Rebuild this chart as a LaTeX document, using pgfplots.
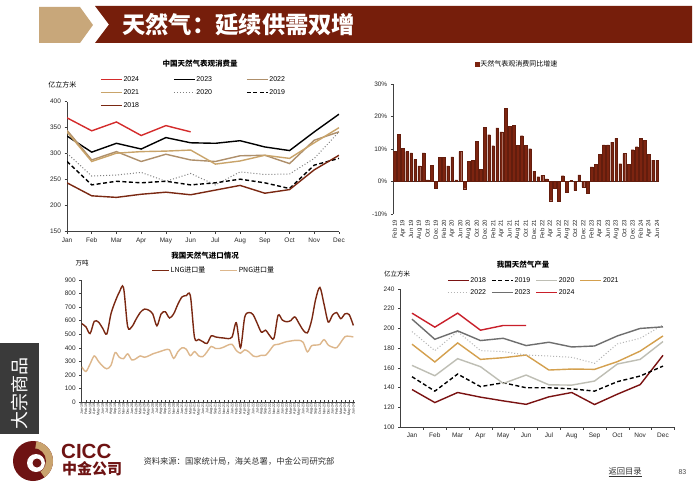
\documentclass[border=0pt]{standalone}
\usepackage{fontspec}
\setmainfont{Liberation Sans}
\newfontfamily\cjk{Noto Sans CJK SC}
\usepackage{pgfplots}
\usepackage{pgfplotstable}
\pgfplotsset{compat=1.18}
\definecolor{bannerred}{HTML}{761E0B}
\definecolor{bannertan}{HTML}{C8A77A}
\definecolor{barred}{HTML}{7C2410}
\definecolor{lngc}{HTML}{7A2812}
\definecolor{pngc}{HTML}{DDB78C}
\definecolor{cA}{HTML}{D42B2B}
\definecolor{c22}{HTML}{AE8F6B}
\definecolor{c21}{HTML}{C9A46A}
\definecolor{c18}{HTML}{7A2812}
\definecolor{p18}{HTML}{7A1212}
\definecolor{p20}{HTML}{BEBEB4}
\definecolor{p21}{HTML}{D4A04E}
\definecolor{p22}{HTML}{B4B4B4}
\definecolor{p23}{HTML}{6E6E6E}
\definecolor{p24}{HTML}{C91F2A}
\definecolor{boxgrey}{HTML}{3A3A3A}
\definecolor{logored}{HTML}{6E1313}
\definecolor{logotan}{HTML}{C9A36E}

\pgfplotstableread{
m a24 a23 a22 a21 a20 a19 a18
1 369 334 345 342 301 285 244
2 344 303 288 285 257 240 219
3 361 320 304 301 259 247 216
4 335 309 285 304 264 244 222
5 354 331 299 305 247 247 226
6 342 321 288 307 262 240 221
7 nan 320 285 280 240 244 230
8 nan 325 296 286 265 251 239
9 nan 313 297 297 260 244 224
10 nan 306 281 291 261 233 231
11 nan 342 326 321 291 278 269
12 nan 376 342 350 342 291 297
}\cons

\pgfplotstableread{
m p18 p19 p20 p21 p22 p23 p24
1 138 151 162.5 184 196.8 209.4 215.5
2 124.8 136.4 152 166 177.5 189 201.3
3 135 153.7 169.3 185.3 196.8 197.5 215.5
4 130.3 141 161.2 168.6 177.5 187.7 198.2
5 126.5 144.9 144.2 170.3 176.5 190 203
6 123 139.8 152.7 173 173 182.6 203
7 130.6 139.8 142.8 157.8 172 186 nan
8 135 138.7 142.5 158.8 170.7 181.2 nan
9 122.8 136.4 146.6 158.5 164.6 182.2 nan
10 133.3 146 163.9 166.3 184.3 192.4 nan
11 143 151.7 168.6 177 190 200 nan
12 172.7 161.8 186.7 192.4 203.6 201.6 nan
}\prod

\pgfplotstableread{
i g
0 9.3
1 14.5
2 10.2
3 9.2
4 8.8
5 6.8
6 4.8
7 8.8
8 0.5
9 5.0
10 -2.0
11 7.4
12 7.4
13 4.8
14 7.6
15 0.5
16 9.2
17 -2.2
18 6.2
19 6.6
20 12.4
21 3.7
22 16.7
23 14.4
24 11.0
25 16.5
26 15.3
27 22.6
28 16.9
29 17.2
30 11.2
31 14.1
32 11.1
33 10.1
34 3.2
35 1.5
36 1.9
37 0.8
38 -5.9
39 -2.0
40 -6.1
41 1.8
42 -3.3
43 0.3
44 -2.8
45 2.0
46 -1.8
47 -3.7
48 4.5
49 5.2
50 8.4
51 11.3
52 11.3
53 12.1
54 13.3
55 5.5
56 8.6
57 5.2
58 9.8
59 10.7
60 13.3
61 12.6
62 8.4
63 6.6
64 6.6
}\growth

\pgfplotstableread{
i lng png
0 578 260
1 555 225
2 505 280
3 595 340
4 590 300
5 545 265
6 502 245
7 650 270
8 740 365
9 810 330
10 845 320
11 556 355
12 555 310
13 610 320
14 660 340
15 685 330
16 678 340
17 650 355
18 562 365
19 650 375
20 666 385
21 620 385
22 650 322
23 720 370
24 775 400
25 785 390
26 785 342
27 475 372
28 462 340
29 445 335
30 432 370
31 488 410
32 480 395
33 475 395
34 472 405
35 468 420
36 480 425
37 585 380
38 400 360
39 625 385
40 660 370
41 645 340
42 580 335
43 515 345
44 530 345
45 490 380
46 470 420
47 640 425
48 605 435
49 592 445
50 600 450
51 628 455
52 580 455
53 530 440
54 510 370
55 600 415
56 760 420
57 845 425
58 720 460
59 590 420
60 640 405
61 660 400
62 615 440
63 650 482
64 645 485
65 565 480
}\imports

\pgfplotsset{
  base/.style={scale only axis, anchor=south west,
    axis x line*=bottom, axis y line*=left,
    axis line style={-, black!75, line width=0.6pt},
    tick align=outside, major tick length=2.5pt,
    tick style={black!75, line width=0.5pt},
    ticklabel style={font=\fontsize{6.5}{7}\selectfont, text=black!85},
    /pgf/number format/assume math mode=true,
    legend cell align=left,
    legend image code/.code={\draw[##1] (0pt,0pt) -- (21pt,0pt);},
    legend style={draw=none, fill=none, font=\fontsize{7}{8}\selectfont, inner sep=0pt,
      nodes={inner sep=1pt}},
  },
  short legend/.style={legend image code/.code={\draw[##1] (0pt,0pt) -- (17pt,0pt);}},
}

\begin{document}
\begin{tikzpicture}[x=1pt,y=1pt]
\path[use as bounding box, fill=white] (0pt,0pt) rectangle (700pt,490pt);
% header
\fill[bannertan] (39,483) -- (80,483) -- (93,465) -- (80,447) -- (39,447) -- cycle;
\fill[bannerred] (95,484) -- (692,484) -- (692,447) -- (95,447) -- (109,465.5) -- cycle;
\node[anchor=west, text=white, font=\cjk\bfseries\fontsize{23.3}{25}\selectfont, inner sep=0pt] at (122,465.5) {天然气：延续供需双增};

% ---------- Panel 1: apparent consumption ----------
\begin{axis}[base, at={(67pt,258.3pt)}, width=272pt, height=130pt,
  xmin=1, xmax=12, ymin=150, ymax=400, ytick={150,200,...,400},
  xtick={1,...,12}, xticklabels={Jan,Feb,Mar,Apr,May,Jun,Jul,Aug,Sep,Oct,Nov,Dec},
  legend columns=3,
  legend style={at={(0.121,1.203)}, anchor=north west,
    /tikz/every even column/.append style={column sep=33pt}, row sep=4.6pt},
]
\addplot[cA, line width=1.4pt] table[x=m,y=a24]{\cons}; \addlegendentry{2024}
\addplot[black, line width=1.4pt] table[x=m,y=a23]{\cons}; \addlegendentry{2023}
\addplot[c22, line width=1.4pt] table[x=m,y=a22]{\cons}; \addlegendentry{2022}
\addplot[c21, line width=1.4pt] table[x=m,y=a21]{\cons}; \addlegendentry{2021}
\addplot[gray, line width=1pt, dotted] table[x=m,y=a20]{\cons}; \addlegendentry{2020}
\addplot[black, line width=1.4pt, dash pattern=on 4pt off 2.5pt] table[x=m,y=a19]{\cons}; \addlegendentry{2019}
\addplot[c18, line width=1.4pt] table[x=m,y=a18]{\cons}; \addlegendentry{2018}
\end{axis}
\node[font=\cjk\bfseries\fontsize{7.5}{8}\selectfont] at (200,426) {中国天然气表观消费量};
\node[font=\cjk\fontsize{7}{8}\selectfont, anchor=east] at (80,405) {亿立方米};

% ---------- Panel 2: growth bars ----------
\begin{axis}[base, at={(393.3pt,276pt)}, width=265.7pt, height=130pt,
  xmin=-0.34, xmax=64.46, ymin=-10, ymax=30,
  ytick={-10,0,10,20,30}, yticklabels={-10\%,0\%,10\%,20\%,30\%},
  x axis line style={draw=none}, xtick style={draw=none},
  xtick={0,2,...,64},
  xticklabels={Feb 19,Apr 19,Jun 19,Aug 19,Oct 19,Dec 19,Feb 20,Apr 20,Jun 20,Aug 20,Oct 20,Dec 20,Feb 21,Apr 21,Jun 21,Aug 21,Oct 21,Dec 21,Feb 22,Apr 22,Jun 22,Aug 22,Oct 22,Dec 22,Feb 23,Apr 23,Jun 23,Aug 23,Oct 23,Dec 23,Feb 24,Apr 24,Jun 24},
  xticklabel style={rotate=90, anchor=east, font=\fontsize{6}{6}\selectfont},
  extra y ticks={0}, extra y tick labels={},
  extra y tick style={grid=major, major grid style={black!80, line width=0.6pt}},
  ybar, bar width=2.7pt,
  legend style={at={(0.305,1.154)}, anchor=west},
]
\addplot[fill=barred, draw=barred!80!black, line width=0.2pt,
  legend image code/.code={\fill[barred] (0pt,-2.3pt) rectangle (4.6pt,2.3pt);}] table[x=i,y=g]{\growth};
\addlegendentry{\cjk 天然气表观消费同比增速}
\end{axis}

% ---------- Panel 3: imports ----------
\begin{axis}[base, short legend, at={(81.7pt,88pt)}, width=273.3pt, height=122pt,
  xmin=0, xmax=65.4, ymin=0, ymax=900, ytick={0,100,...,900},
  xtick={0,...,65},
  xticklabels={Jan-19,Feb-19,Mar-19,Apr-19,May-19,Jun-19,Jul-19,Aug-19,Sep-19,Oct-19,Nov-19,Dec-19,Jan-20,Feb-20,Mar-20,Apr-20,May-20,Jun-20,Jul-20,Aug-20,Sep-20,Oct-20,Nov-20,Dec-20,Jan-21,Feb-21,Mar-21,Apr-21,May-21,Jun-21,Jul-21,Aug-21,Sep-21,Oct-21,Nov-21,Dec-21,Jan-22,Feb-22,Mar-22,Apr-22,May-22,Jun-22,Jul-22,Aug-22,Sep-22,Oct-22,Nov-22,Dec-22,Jan-23,Feb-23,Mar-23,Apr-23,May-23,Jun-23,Jul-23,Aug-23,Sep-23,Oct-23,Nov-23,Dec-23,Jan-24,Feb-24,Mar-24,Apr-24,May-24,Jun-24},
  xticklabel style={rotate=90, anchor=east, font=\fontsize{3.6}{4}\selectfont, inner sep=1pt},
  xtick align=inside,
  legend columns=2,
  legend style={at={(0.254,1.076)}, anchor=west,
    /tikz/every even column/.append style={column sep=13pt}},
]
\addplot[lngc, line width=1.4pt, smooth, tension=0.5] table[x=i,y=lng]{\imports};
\addlegendentry{\cjk LNG进口量}
\addplot[pngc, line width=1.4pt, smooth, tension=0.5] table[x=i,y=png]{\imports};
\addlegendentry{\cjk PNG进口量}
\end{axis}
\node[font=\cjk\bfseries\fontsize{7.5}{8}\selectfont] at (205,234) {我国天然气进口情况};
\node[font=\cjk\fontsize{6.5}{7}\selectfont] at (82,226.5) {万吨};

% ---------- Panel 4: production ----------
\begin{axis}[base, at={(400.6pt,63pt)}, width=273.8pt, height=138pt,
  xmin=0.5, xmax=12.5, ymin=100, ymax=240, ytick={100,120,...,240},
  xtick={1.5,2.5,...,12.5},
  xticklabels={Jan,Feb,Mar,Apr,May,Jun,Jul,Aug,Sep,Oct,Nov,Dec},
  xticklabel style={xshift=-11.4pt},
  legend columns=4,
  legend style={at={(0.169,1.094)}, anchor=north west,
    /tikz/every even column/.append style={column sep=4.2pt}, row sep=3.5pt},
]
\addplot[p18, line width=1.4pt] table[x=m,y=p18]{\prod}; \addlegendentry{2018}
\addplot[black, line width=1.4pt, dash pattern=on 4pt off 2.5pt] table[x=m,y=p19]{\prod}; \addlegendentry{2019}
\addplot[p20, line width=1.4pt] table[x=m,y=p20]{\prod}; \addlegendentry{2020}
\addplot[p21, line width=1.4pt] table[x=m,y=p21]{\prod}; \addlegendentry{2021}
\addplot[p22, line width=1pt, dotted] table[x=m,y=p22]{\prod}; \addlegendentry{2022}
\addplot[p23, line width=1.4pt] table[x=m,y=p23]{\prod}; \addlegendentry{2023}
\addplot[p24, line width=1.4pt] table[x=m,y=p24]{\prod}; \addlegendentry{2024}
\end{axis}
\node[font=\cjk\bfseries\fontsize{7.5}{8}\selectfont] at (523,225) {我国天然气产量};
\node[font=\cjk\fontsize{6.5}{7}\selectfont] at (397,216) {亿立方米};

% ---------- side box and footer ----------
\fill[boxgrey] (0,56) rectangle (39,147);
\node[rotate=90, text=white, font=\cjk\fontsize{18}{20}\selectfont] at (19.5,97) {大宗商品};
\fill[logored] (33,29) circle (20);
\fill[logotan] (33,29) -- ++(-55:20) arc (-55:80:20) -- cycle;
\fill[logored] (33,29) circle (13);
\fill[white] (36,27) circle (9);
\fill[logored] (37,27) circle (4.5);
\node[anchor=west, text=logored, font=\bfseries\fontsize{20.5}{22}\selectfont, inner sep=0pt] at (61,39) {CICC};
\node[anchor=west, text=logored, font=\cjk\bfseries\fontsize{15}{16}\selectfont, inner sep=0pt] at (62,21.5) {中金公司};
\node[anchor=west, text=black!80, font=\cjk\fontsize{8.3}{9}\selectfont] at (140,29) {资料来源：国家统计局，海关总署，中金公司研究部};
\node[anchor=west, text=black!80, font=\cjk\fontsize{8.3}{9}\selectfont] at (605,18) {\underline{返回目录}};
\node[anchor=west, text=black!70, font=\fontsize{7}{8}\selectfont] at (675,18) {83};
\end{tikzpicture}
\end{document}
